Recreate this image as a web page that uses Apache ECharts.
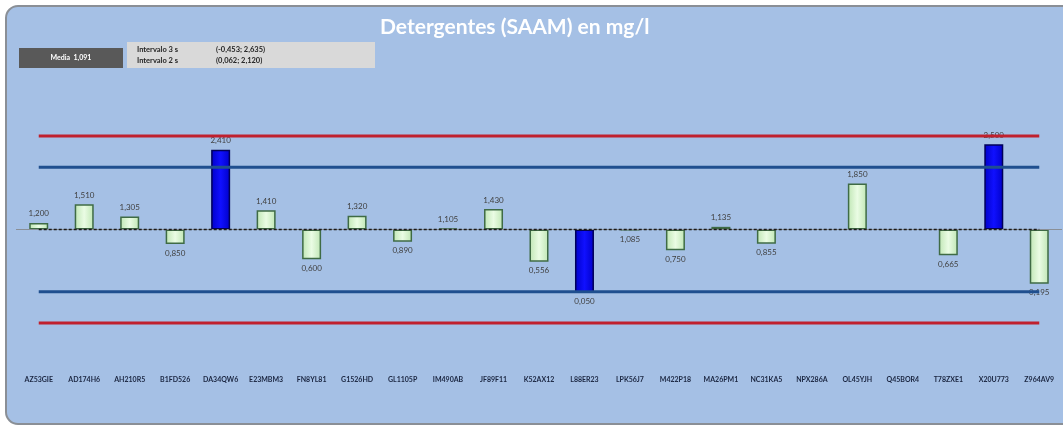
<!DOCTYPE html>
<html>
<head>
<meta charset="utf-8">
<script src="https://cdn.jsdelivr.net/npm/echarts@6/dist/echarts.min.js"></script>
<style>
html,body{margin:0;padding:0;background:#ffffff;}
#chart{width:1063px;height:427px;}
</style>
</head>
<body>
<div id="chart"></div>
<script>
const titleText = 'Detergentes (SAAM) en mg/l';
const categories = ['AZ53GIE','AD174H6','AH210R5','B1FD526','DA34QW6','E23MBM3','FN8YL81','G1526HD','GL1105P','IM490AB','JF89F11','K52AX12','L88ER23','LPK56J7','M422P18','MA26PM1','NC31KA5','NPX286A','OL45YJH','Q45BOR4','T78ZXE1','X20U773','Z964AV9'];
const values = [1.200,1.510,1.305,0.850,2.410,1.410,0.600,1.320,0.890,1.105,1.430,0.556,0.050,1.085,0.750,1.135,0.855,null,1.850,null,0.665,2.500,0.195];
const mean = 1.091;
const interval3s = [-0.453, 2.635];
const interval2s = [0.062, 2.120];

const fmt = v => v.toFixed(3).replace('.', ',');
const font = 'Lato, "Open Sans", sans-serif';

const greenStyle = {
  color: {type:'linear', x:0, y:0, x2:1, y2:0, colorStops:[
    {offset:0, color:'#bfe6b4'},{offset:0.5, color:'#eafce4'},{offset:1, color:'#bfe6b4'}]},
  borderColor:'#3f6b45', borderWidth:1.5
};
const blueStyle = {
  color: {type:'linear', x:0, y:0, x2:1, y2:0, colorStops:[
    {offset:0, color:'#0000c8'},{offset:0.5, color:'#1010ff'},{offset:1, color:'#0000c8'}]},
  borderColor:'#00005a', borderWidth:1.5
};

const baseData = categories.map(() => mean);
const deltaData = values.map(v => {
  if (v === null) return null;
  const out = v < interval2s[0] || v > interval2s[1];
  return {
    value: +(v - mean).toFixed(4),
    itemStyle: out ? blueStyle : greenStyle,
    label: {position: v >= mean ? 'top' : 'bottom'}
  };
});
const lineData = lim => categories.map(() => lim);

const chart = echarts.init(document.getElementById('chart'), null, {renderer:'canvas'});
const lineSeries = (lim, color) => ({
  type:'line', data: lineData(lim), symbol:'none', silent:true, z:5,
  lineStyle:{color: color, width:3}
});

chart.setOption({
  backgroundColor:'#ffffff',
  animation:false,
  title:{
    text:titleText, left:375, top:12,
    textStyle:{color:'#ffffff', fontSize:21, fontWeight:'bold', fontFamily:font}
  },
  graphic:[
    {type:'rect', z:-10, shape:{x:6, y:6, width:1070, height:418, r:12},
     style:{fill:'#a5c0e5', stroke:'#8a8f96', lineWidth:2}},
    {type:'rect', z:1, shape:{x:19, y:48, width:104, height:20},
     style:{fill:'#595959'}},
    {type:'text', z:2, x:71, y:58,
     style:{text:'Media  ' + fmt(mean), fill:'#ffffff', font:'bold 7px ' + font, align:'center', verticalAlign:'middle'}},
    {type:'rect', z:1, shape:{x:127, y:42, width:248, height:26},
     style:{fill:'#d9d9d9'}},
    {type:'text', z:2, x:137, y:50,
     style:{text:'Intervalo 3 s', fill:'#1f1f1f', font:'bold 7.5px ' + font, verticalAlign:'middle'}},
    {type:'text', z:2, x:216, y:50,
     style:{text:'(' + fmt(interval3s[0]) + '; ' + fmt(interval3s[1]) + ')', fill:'#1f1f1f', font:'bold 7.5px ' + font, verticalAlign:'middle'}},
    {type:'text', z:2, x:137, y:61,
     style:{text:'Intervalo 2 s', fill:'#1f1f1f', font:'bold 7.5px ' + font, verticalAlign:'middle'}},
    {type:'text', z:2, x:216, y:61,
     style:{text:'(' + fmt(interval2s[0]) + '; ' + fmt(interval2s[1]) + ')', fill:'#1f1f1f', font:'bold 7.5px ' + font, verticalAlign:'middle'}}
  ],
  grid:{left:16, right:1, top:114, bottom:71, containLabel:false},
  xAxis:{
    type:'category', data:categories, boundaryGap:true,
    axisLine:{show:false}, axisTick:{show:false},
    axisLabel:{margin:20, fontSize:7, fontWeight:'bold', color:'#1a2540', fontFamily:font, interval:0}
  },
  yAxis:{
    type:'value', min:-1, max:3, show:false, splitLine:{show:false}
  },
  series:[
    {type:'bar', name:'base', data:baseData, stack:'s', stackStrategy:'all', barWidth:19,
     itemStyle:{color:'rgba(0,0,0,0)'}, silent:true, z:2,
     markLine:{symbol:'none', silent:true, label:{show:false},
       lineStyle:{color:'#8a8f96', width:1, type:'solid'}, data:[{yAxis:mean}]}},
    {type:'bar', name:'delta', data:deltaData, stack:'s', stackStrategy:'all', barWidth:19, z:3,
     label:{show:true, distance:5, fontSize:8, color:'#404040', fontFamily:font,
       formatter: p => values[p.dataIndex] === null ? '' : fmt(values[p.dataIndex])}},
    lineSeries(interval3s[1], '#c0202e'),
    lineSeries(interval3s[0], '#c0202e'),
    lineSeries(interval2s[1], '#1f4f8f'),
    lineSeries(interval2s[0], '#1f4f8f'),
    {type:'line', data: lineData(mean), symbol:'none', silent:true, z:6,
     lineStyle:{color:'#1a1a1a', width:1.5, type:[3,2]}}
  ]
});
</script>
</body>
</html>
